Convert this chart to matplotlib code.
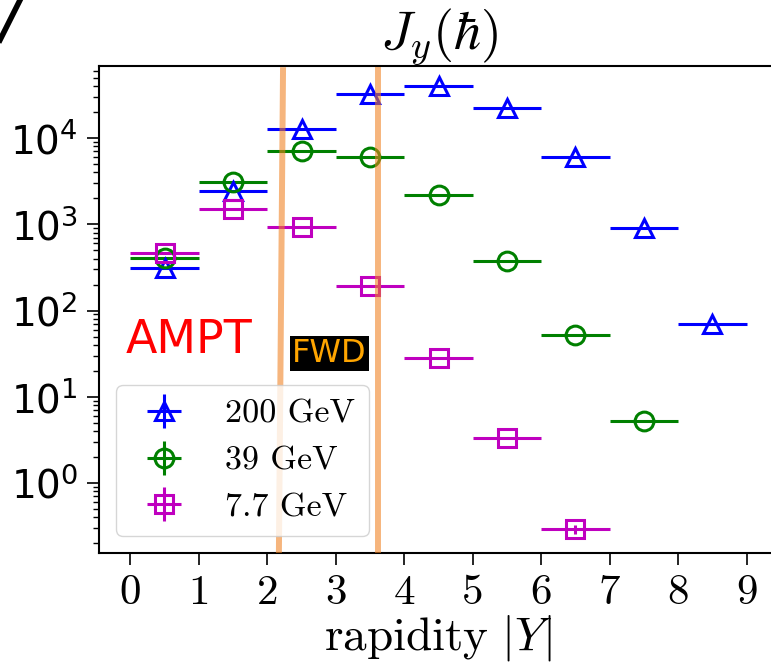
import matplotlib
matplotlib.use("Agg")
import matplotlib.pyplot as plt
from matplotlib.lines import Line2D

# rapidity bin centres (bins are 1 unit wide)
rapidity = [0.5, 1.5, 2.5, 3.5, 4.5, 5.5, 6.5, 7.5, 8.5]

jy_200 = [308, 2420, 12700, 32700, 40500, 22300, 5970, 897, 70.6]
jy_39 = [403, 3080, 7000, 5970, 2160, 380, 51.6, 5.3]
jy_77 = [460, 1510, 922, 194, 27.9, 3.31, 0.292]

yerr_200 = [0, 0, 0, 0, 0, 0, 0, 0, 0]
yerr_39 = [0, 0, 0, 0, 0, 0, 0, 0.15]
yerr_77 = [0, 0, 0, 0, 0, 0, 0.035]

labels = ["200 GeV", "39 GeV", "7.7 GeV"]
xtick_vals = list(range(10))
xtick_labels = [str(i) for i in xtick_vals]
ytick_vals = [1, 10, 100, 1000, 10000]

# forward region edges (first line is drawn slightly tilted)
fwd_top = [2.23, 3.62]
fwd_bottom = [2.17, 3.62]
fwd_y = [0.167, 61000]

plt.rcParams["axes.unicode_minus"] = False

fig = plt.figure(figsize=(7.71, 6.66), dpi=100)
ax = fig.add_axes([0.129, 0.1697, 0.8795, 0.731])

series = [
    (jy_200, yerr_200, "^", "b"),
    (jy_39, yerr_39, "o", "g"),
    (jy_77, yerr_77, "s", "m"),
]
for (vals, errs, mk, col), lab in zip(series, labels):
    x = rapidity[: len(vals)]
    ax.errorbar(
        x, vals, xerr=0.5, yerr=errs, fmt=mk, color=col, mfc="none",
        ms=13.5, mew=2.2, elinewidth=2.2, capsize=0, label=lab,
    )

for xt, xb in zip(fwd_top, fwd_bottom):
    ax.plot([xb, xt], fwd_y, color=(0.94, 0.5, 0.12), alpha=0.58, lw=4.3, zorder=5)

ax.set_yscale("log")
ax.set_xlim(-0.45, 9.45)
ax.set_ylim(0.155, 68000)
ax.set_yticks(ytick_vals)

ax.set_xticks(xtick_vals)
ax.set_xticklabels(xtick_labels, fontfamily="cmr10", fontsize=31)
ax.tick_params(axis="y", which="major", labelsize=28)
ax.tick_params(which="major", length=8.5, width=1.2, pad=7)
ax.tick_params(which="minor", length=4, width=1.0)
for s in ax.spines.values():
    s.set_linewidth(1.5)

ax.set_title(r"$J_y(\hbar)$", fontsize=39, math_fontfamily="cm", pad=6)
ax.set_xlabel(r"$\mathrm{rapidity}\ |Y|$", fontsize=34, math_fontfamily="cm", labelpad=1)

ax.text(0.039, 0.41, "AMPT", transform=ax.transAxes, color="red", fontsize=33,
        va="baseline")
ax.text(0.284, 0.392, "FWD", transform=ax.transAxes, color="orange", fontsize=23,
        va="baseline", bbox=dict(facecolor="black", edgecolor="none", pad=1.5))

ax.legend(loc="lower left", prop={"family": "cmr10", "size": 24.5})

# piece of the neighbouring panel at the top-left corner
fig.add_artist(Line2D([0.0, 0.026], [0.94, 1.0], transform=fig.transFigure,
                      color="black", lw=4))

fig.savefig("out.png", dpi=100)
